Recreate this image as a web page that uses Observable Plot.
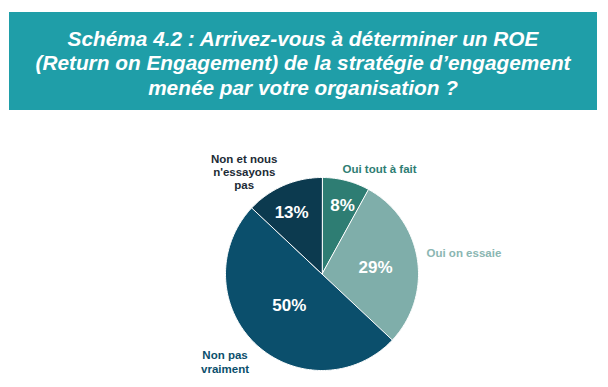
<!DOCTYPE html>
<html><head><meta charset="utf-8">
<script src="https://cdn.jsdelivr.net/npm/d3@7"></script>
<script src="https://cdn.jsdelivr.net/npm/@observablehq/plot@0.6"></script>
<style>
body{margin:0;background:#fff;font-family:"Liberation Sans",Arial,sans-serif;}
#title{position:absolute;left:9px;top:12px;width:588px;height:98px;background:#1f9ea8;color:#fff;font-weight:bold;font-style:italic;font-size:20.8px;line-height:24.5px;text-align:center;display:flex;align-items:center;justify-content:center;box-sizing:border-box;padding-top:5px;}
#chart{position:absolute;left:0;top:110px;}
</style></head><body>
<div id="title"><div>Schéma 4.2 : Arrivez-vous à déterminer un ROE<br>(Return on Engagement) de la stratégie d’engagement<br>menée par votre organisation ?</div></div>
<div id="chart"></div>
<script>
const categories = ["Oui tout à fait", "Oui on essaie", "Non pas vraiment", "Non et nous n'essayons pas"];
const categoryLabels = ["Oui tout à fait", "Oui on essaie", "Non pas\nvraiment", "Non et nous\nn'essayons\npas"];
const values = [8, 29, 50, 13];
const percentLabels = ["8%", "29%", "50%", "13%"];

// styling / layout
const colors = ["#2e7d73", "#7faeaa", "#0b4f6c", "#0c3a4f"];
const labelColors = ["#2e7d73", "#8ab6b2", "#0b4f6c", "#1c2b36"];
const pctRadius = [0.74, 0.56, 0.47, 0.71];
const pctAngleShift = [0.04, 0.03, 0.05, -0.05];
const outerPos = [[0.596, -1.09, "middle"], [1.083, -0.21, "start"], [-1.005, 0.91, "middle"], [-0.806, -1.062, "middle"]];

const arcs = d3.pie().sort(null)(values);
const slices = arcs.map((a, i) => {
  const ring = [[0, 0]];
  const n = Math.max(8, Math.ceil((a.endAngle - a.startAngle) * 60));
  for (let k = 0; k <= n; k++) {
    const t = a.startAngle + (a.endAngle - a.startAngle) * k / n;
    ring.push([Math.sin(t), -Math.cos(t)]);
  }
  ring.push([0, 0]);
  return {type: "Feature", properties: {category: categories[i], i}, geometry: {type: "Polygon", coordinates: [ring]}};
});
const pct = arcs.map((a, i) => {
  const m = (a.startAngle + a.endAngle) / 2 + pctAngleShift[i];
  return {x: pctRadius[i] * Math.sin(m), y: -pctRadius[i] * Math.cos(m), text: percentLabels[i]};
});
const outer = categoryLabels.map((t, i) => ({x: outerPos[i][0], y: outerPos[i][1], anchor: outerPos[i][2], text: t, i}));

const chart = Plot.plot({
  width: 608,
  height: 277,
  marginLeft: 225, marginRight: 190, marginTop: 67, marginBottom: 17,
  projection: {type: "identity", clip: false, domain: {type: "MultiPoint", coordinates: [[-1, -1], [1, 1]]}},
  style: {fontFamily: "'Liberation Sans', Arial, sans-serif", background: "transparent", overflow: "visible"},
  marks: [
    Plot.geo(slices, {fill: d => colors[d.properties.i], stroke: "white", strokeWidth: 1}),
    Plot.text(pct, {x: "x", y: "y", text: "text", fill: "white", fontSize: 17, fontWeight: "bold"}),
    Plot.text(outer.filter(d => d.anchor === "middle"), {x: "x", y: "y", text: "text", fill: d => labelColors[d.i], fontSize: 11.5, fontWeight: "bold", textAnchor: "middle", lineHeight: 1.15}),
    Plot.text(outer.filter(d => d.anchor === "start"), {x: "x", y: "y", text: "text", fill: d => labelColors[d.i], fontSize: 11.5, fontWeight: "bold", textAnchor: "start"})
  ]
});
document.getElementById("chart").appendChild(chart);
</script>
</body></html>
